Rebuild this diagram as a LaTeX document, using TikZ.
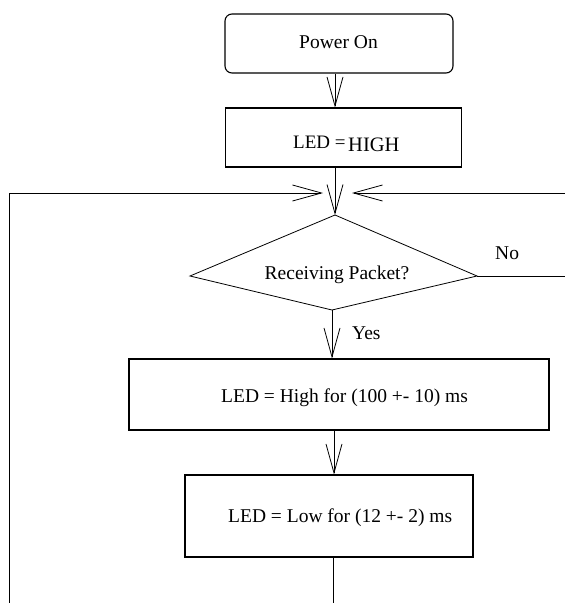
\documentclass[tikz,border=0pt]{standalone}
\usepackage{fontspec}
\setmainfont{Liberation Serif}
\usetikzlibrary{arrows.meta}
\begin{document}
\begin{tikzpicture}[x=1pt,y=-1pt,
  box/.style={draw, line width=1.1pt, inner sep=0pt},
  conn/.style={line width=0.8pt},
  arr/.style={conn, -{Straight Barb[length=29pt,width=16pt]}},
  txt/.style={inner sep=0pt, font=\fontsize{19.5}{23}\selectfont}
]
\useasboundingbox (0,0) rectangle (565,603);
% boxes
\node[box, rounded corners=7pt, minimum width=228pt, minimum height=59pt] (power) at (339,43.5) {};
\node[box, minimum width=236pt, minimum height=59pt] (led) at (343.5,137.5) {};
\node[box, minimum width=420pt, minimum height=71pt] (box3) at (339,394.5) {};
\node[box, minimum width=288pt, minimum height=82pt] (box4) at (329,516) {};
% diamond
\coordinate (dT) at (335,215);
\coordinate (dL) at (190,276);
\coordinate (dR) at (477,276);
\coordinate (dB) at (332,310);
\draw[line width=0.8pt] (dT) -- (dR) -- (dB) -- (dL) -- cycle;
% texts
\node[txt, anchor=base] (tpower) at (338.5,48) {Power On};
\node[txt, anchor=base west, font=\fontsize{19}{23}\selectfont] (tledA) at (293,148) {LED =};
\node[txt, anchor=base west, font=\fontsize{20.5}{24}\selectfont] (tledB) at (348,151) {HIGH};
\node[txt, anchor=base] (tdia) at (337,279) {Receiving Packet?};
\node[txt, anchor=base west] (tno) at (495,259) {No};
\node[txt, anchor=base west] (tyes) at (352,339) {Yes};
\node[txt, anchor=base west] (t3) at (221,402) {LED = High for (100 +- 10) ms};
\node[txt, anchor=base west] (t4) at (228,522) {LED = Low for (12 +- 2) ms};
% helper coordinates
\coordinate (c1) at (335,0);
\coordinate (c2) at (334,0);
\coordinate (c3) at (333,0);
\coordinate (jl) at (323,193);
\coordinate (jr) at (352,193);
\coordinate (lb) at (9.5,603);
\coordinate (rr) at (565,193);
\coordinate (nr) at (565,276);
\coordinate (bb) at (333,603);
% connectors
\draw[arr] (power.south -| c1) -- (led.north -| c1);
\draw[arr] (led.south -| dT) -- (dT);
\draw[arr] (lb) |- (jl);
\draw[arr] (rr) -- (jr);
\draw[conn] (dR) -- (nr);
\draw[arr] (dB) -- (box3.north -| dB);
\draw[arr] (box3.south -| c2) -- (box4.north -| c2);
\draw[conn] (box4.south -| c3) -- (bb);
\end{tikzpicture}
\end{document}
